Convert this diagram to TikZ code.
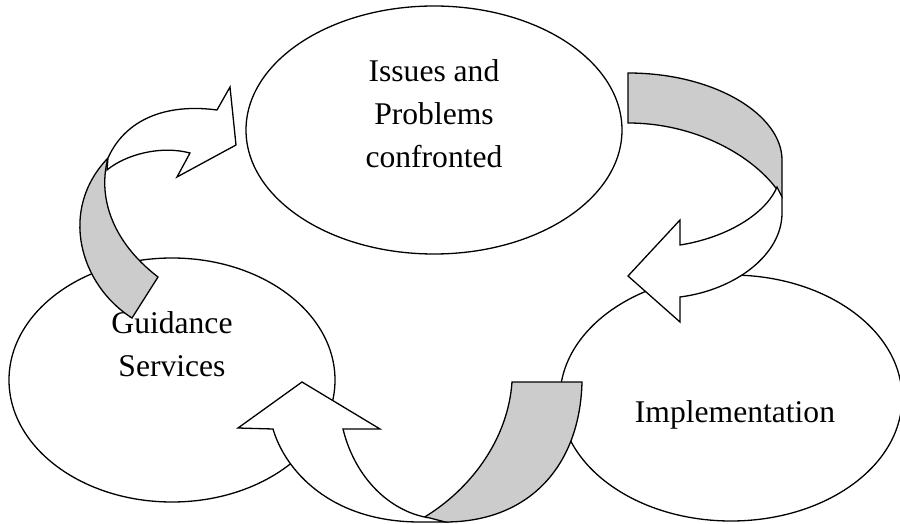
\documentclass[tikz,border=0pt]{standalone}
\usepackage{fontspec}
\setmainfont{Liberation Serif}
\usetikzlibrary{shapes.geometric}
\tikzset{
  oval/.style={draw, ellipse, line width=1.3pt, inner sep=0pt},
  lbl/.style={font=\fontsize{31.6}{43}\selectfont, align=center, inner sep=0pt},
  back/.style={draw, fill=black!20, line width=1.3pt},
  front/.style={draw, fill=white, line width=1.3pt},
}
\begin{document}
\begin{tikzpicture}[x=1pt, y=-1pt]
  \useasboundingbox (0,0) rectangle (900,524);
  \node[oval, minimum width=376pt, minimum height=248pt] (issues) at (434,130) {};
  \node[oval, minimum width=326pt, minimum height=244pt] (guidance) at (172,380) {};
  \node[oval, minimum width=342pt, minimum height=246pt] (impl) at (731,398) {};
  \node[lbl] (issuestxt) at ([yshift=16pt]issues.center) {Issues and\\Problems\\confronted};
  \node[lbl] (guidancetxt) at ([yshift=36pt]guidance.center) {Guidance\\Services};
  \node[lbl] (impltxt) at ([xshift=4pt, yshift=-17pt]impl.center) {Implementation};
  % issues -> implementation
  \draw[back] (628,73) .. controls (715,73) and (782,115) .. (782,160) -- (782,197)
     .. controls (760,160) and (700,123) .. (628,123) -- cycle;
  \draw[front] (782,197) -- (782,213) .. controls (782,255) and (735,290) .. (680,297)
     -- (680,322) -- (628,276) -- (680,220) -- (680,245)
     .. controls (725,238) and (765,215) .. (777,187) -- cycle;
  % implementation -> guidance
  \draw[back] (512,382) -- (582,382) .. controls (580,465) and (530,522) .. (445,522)
     -- (423,518) .. controls (470,490) and (508,440) .. (512,382) -- cycle;
  \draw[front] (343,429) .. controls (355,478) and (390,512) .. (430,518) -- (445,522)
     -- (420,522) .. controls (330,522) and (285,470) .. (273,429)
     -- (238,428) -- (302,382) -- (380,429) -- cycle;
  % guidance -> issues
  \draw[back] (132,318) .. controls (80,285) and (58,210) .. (108,158)
     .. controls (98,195) and (110,240) .. (158,277) -- cycle;
  \draw[front] (108,158) .. controls (125,120) and (165,103) .. (217,110)
     -- (230,87) -- (236,145) -- (177,177) -- (190,153)
     .. controls (160,145) and (125,155) .. (107,170) -- cycle;
\end{tikzpicture}
\end{document}
